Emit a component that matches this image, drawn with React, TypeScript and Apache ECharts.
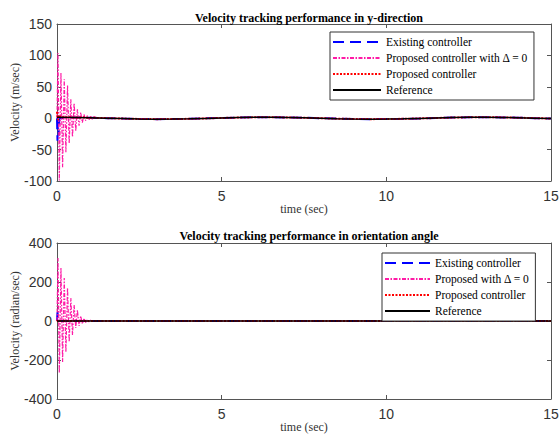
import React, { useEffect, useRef } from "react";
import * as echarts from "echarts";

// ---------- data ----------
const xTicks = [0, 5, 10, 15];

// y-direction reference (slow wave)
const refTimeY = [0, 0.5, 1, 1.5, 2, 2.5, 3, 3.5, 4, 4.5, 5, 5.5, 6, 6.5, 7, 7.5, 8, 8.5, 9, 9.5, 10, 10.5, 11, 11.5, 12, 12.5, 13, 13.5, 14, 14.5, 15];
const refValY = [1.5, 1.3, 0.8, 0.1, -0.6, -1.2, -1.5, -1.4, -1.0, -0.3, 0.4, 1.0, 1.4, 1.5, 1.2, 0.7, 0.0, -0.7, -1.2, -1.5, -1.4, -1.0, -0.4, 0.3, 1.0, 1.4, 1.5, 1.3, 0.8, 0.1, -0.6];

// time stamps of the oscillation peaks of "proposed with Delta = 0"
const pinkTime = [0, 0.03, 0.07, 0.12, 0.17, 0.22, 0.27, 0.32, 0.37, 0.42, 0.47, 0.52, 0.57, 0.62, 0.67, 0.72, 0.77, 0.82, 0.87, 0.92, 0.97, 1.02, 1.07, 1.12, 1.2];
// y-direction: proposed controller with Delta = 0
const pinkValY = [0, 104, -99, 72, -78, 62, -54, 52, -40, 30, -30, 24, -20, 14, -12, 9, -7, 6, -4, 4, -3, 2.5, -1.5, 2, 0.8];
// orientation: proposed with Delta = 0
const pinkValO = [0, 323, -267, 272, -210, 220, -160, 170, -108, 118, -72, 82, -36, 56, -25, 26, -15, 14, -8, 7, -4, 4, -2, 2, 0];

// y-direction: existing controller initial transient
const blueTimeY = [0, 0.015, 0.03, 0.05, 0.07];
const blueValY = [0, -36, -5, -28, 0];

// y-direction: proposed controller initial transient
const redTimeY = [0, 0.03, 0.06, 0.1];
const redValY = [10, -3, 5, 1.4];

// orientation reference
const refTimeO = [0, 2.5, 5, 7.5, 10, 12.5, 15];
const refValO = [0, 0, 0, 0, 0, 0, 0];

// orientation: existing controller initial transient
const blueTimeO = [0, 0.015, 0.03, 0.06];
const blueValO = [0, 45, 20, 0];

// orientation: proposed controller
const redTimeO = [0, 0.03, 0.06];
const redValO = [5, -3, 0];

const namesTop = ["Existing controller", "Proposed controller with Δ = 0", "Proposed controller", "Reference"];
const namesBottom = ["Existing controller", "Proposed with Δ = 0", "Proposed controller", "Reference"];

// ---------- helpers ----------
const zip = (ts: number[], vs: number[]) => ts.map((t, i) => [t, vs[i]]);
const withTail = (ts: number[], vs: number[], rt: number[], rv: number[]) => {
  const last = ts[ts.length - 1];
  return zip(ts, vs).concat(zip(rt, rv).filter((p) => p[0] > last));
};

const SERIF = "'Liberation Serif', 'Times New Roman', serif";
const SANS = "'Liberation Sans', Arial, sans-serif";
const AXIS_COLOR = "#555";

const styles = {
  blue: { color: "#0000ff", width: 2, type: [11, 6] as any },
  pink: { color: "#ff1aa6", width: 1.2, type: [4, 1.5, 1.5, 1.5] as any },
  red: { color: "#ff0000", width: 2, type: [2, 1.5] as any },
  black: { color: "#000000", width: 1.5, type: "solid" as any },
};

function lineSeries(name: string, data: number[][], st: any, xi: number, yi: number) {
  return {
    type: "line",
    name,
    data,
    xAxisIndex: xi,
    yAxisIndex: yi,
    symbol: "none",
    showSymbol: false,
    lineStyle: { color: st.color, width: st.width, type: st.type },
    itemStyle: { color: st.color, opacity: 0 },
    emphasis: { disabled: true },
  };
}

function mainX(gridIndex: number) {
  return {
    type: "value",
    gridIndex,
    min: 0,
    max: 15,
    interval: 5,
    name: "time (sec)",
    nameLocation: "middle",
    nameGap: 22,
    nameMoveOverlap: false,
    nameTextStyle: { fontFamily: SERIF, fontSize: 12, color: "#333" },
    axisLine: { onZero: false, lineStyle: { color: AXIS_COLOR } },
    axisTick: { inside: true, length: 4, lineStyle: { color: AXIS_COLOR } },
    axisLabel: { fontFamily: SANS, fontSize: 14, color: "#333", margin: 8 },
    splitLine: { show: false },
  };
}
function topX(gridIndex: number) {
  return {
    type: "value",
    gridIndex,
    position: "top",
    min: 0,
    max: 15,
    interval: 5,
    axisLine: { onZero: false, lineStyle: { color: AXIS_COLOR } },
    axisTick: { inside: true, length: 4, lineStyle: { color: AXIS_COLOR } },
    axisLabel: { show: false },
    splitLine: { show: false },
  };
}
function mainY(gridIndex: number, min: number, max: number, interval: number, name: string) {
  return {
    type: "value",
    gridIndex,
    min,
    max,
    interval,
    name,
    nameLocation: "middle",
    nameGap: 36,
    nameMoveOverlap: false,
    nameTextStyle: { fontFamily: SERIF, fontSize: 12, color: "#333" },
    axisLine: { show: true, onZero: false, lineStyle: { color: AXIS_COLOR } },
    axisTick: { show: true, inside: true, length: 4, lineStyle: { color: AXIS_COLOR } },
    axisLabel: { fontFamily: SANS, fontSize: 14, color: "#333", margin: 5 },
    splitLine: { show: false },
  };
}
function rightY(gridIndex: number, min: number, max: number, interval: number) {
  return {
    type: "value",
    gridIndex,
    position: "right",
    min,
    max,
    interval,
    axisLine: { show: true, onZero: false, lineStyle: { color: AXIS_COLOR } },
    axisTick: { show: true, inside: true, length: 4, lineStyle: { color: AXIS_COLOR } },
    axisLabel: { show: false },
    splitLine: { show: false },
  };
}

const legendBase = {
  orient: "vertical",
  itemGap: 4,
  padding: [4, 6, 4, 2],
  borderColor: "#333",
  borderWidth: 1,
  backgroundColor: "#fff",
  selectedMode: false,
  itemStyle: { opacity: 0 },
  textStyle: { fontFamily: SERIF, fontSize: 11.5, color: "#000" },
};

export default function App() {
  const ref = useRef<HTMLDivElement>(null);
  useEffect(() => {
    if (!ref.current) return;
    const chart = echarts.init(ref.current, null, { renderer: "svg" });
    const option: any = {
      animation: false,
      backgroundColor: "#ffffff",
      title: [
        {
          text: "Velocity tracking performance in y-direction",
          left: 304,
          top: 7,
          textAlign: "center",
          textStyle: { fontFamily: SERIF, fontSize: 12, fontWeight: "bold", color: "#000" },
        },
        {
          text: "Velocity tracking performance in orientation angle",
          left: 304,
          top: 225,
          textAlign: "center",
          textStyle: { fontFamily: SERIF, fontSize: 12, fontWeight: "bold", color: "#000" },
        },
      ],
      grid: [
        { left: 57, top: 24, width: 494, height: 157, containLabel: false, outerBoundsMode: "none" },
        { left: 57, top: 243, width: 494, height: 156, containLabel: false, outerBoundsMode: "none" },
      ],
      xAxis: [mainX(0), topX(0), mainX(1), topX(1)],
      yAxis: [
        mainY(0, -100, 150, 50, "Velocity (m/sec)"),
        rightY(0, -100, 150, 50),
        mainY(1, -400, 400, 200, "Velocity (radian/sec)"),
        rightY(1, -400, 400, 200),
      ],
      legend: [
        {
          ...legendBase,
          data: namesTop,
          left: 330,
          top: 32,
          itemWidth: 48,
          itemHeight: 11,
        },
        {
          ...legendBase,
          data: namesBottom,
          left: 382,
          top: 253,
          itemWidth: 45,
          itemHeight: 10,
        },
      ],
      series: [
        lineSeries(namesTop[0], withTail(blueTimeY, blueValY, refTimeY, refValY), styles.blue, 0, 0),
        lineSeries(namesTop[1], withTail(pinkTime, pinkValY, refTimeY, refValY), styles.pink, 0, 0),
        lineSeries(namesTop[2], withTail(redTimeY, redValY, refTimeY, refValY), styles.red, 0, 0),
        lineSeries(namesTop[3], zip(refTimeY, refValY), styles.black, 0, 0),
        lineSeries(namesBottom[0], withTail(blueTimeO, blueValO, refTimeO, refValO), styles.blue, 2, 2),
        lineSeries(namesBottom[1], withTail(pinkTime, pinkValO, refTimeO, refValO), styles.pink, 2, 2),
        lineSeries(namesBottom[2], withTail(redTimeO, redValO, refTimeO, refValO), styles.red, 2, 2),
        lineSeries(namesBottom[3], zip(refTimeO, refValO), styles.black, 2, 2),
      ],
    };
    chart.setOption(option);
    return () => chart.dispose();
  }, []);
  return (
    <div
      ref={ref}
      style={{ position: "fixed", left: 0, top: 0, width: 560, height: 437, background: "#fff" }}
    />
  );
}
